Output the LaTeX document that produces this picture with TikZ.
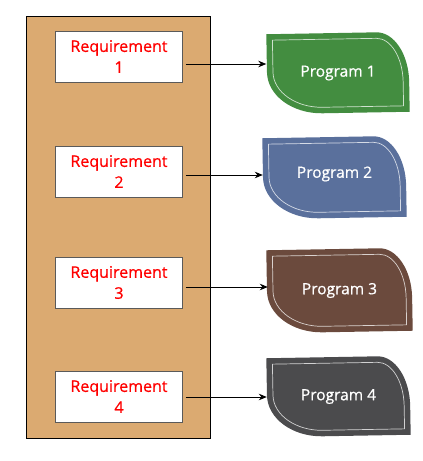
\documentclass[tikz,border=0pt]{standalone}
\usepackage{fontspec}
\setmainfont{Open Sans}
\newfontfamily\labelfont[FakeBold=0.7]{Open Sans}
\usetikzlibrary{arrows.meta}
\definecolor{tan}{HTML}{DBAA71}
\definecolor{pgreen}{HTML}{438D40}
\definecolor{pblue}{HTML}{5A709C}
\definecolor{pbrown}{HTML}{6B4A3D}
\definecolor{pgray}{HTML}{4B4B4D}
\definecolor{reqred}{HTML}{FF0000}
\definecolor{reqborder}{HTML}{5A5A5A}
\tikzset{
  panel/.style={draw=black, line width=1pt, fill=tan},
  req/.style={draw=reqborder, line width=0.9pt, fill=white, minimum width=127pt, minimum height=51pt,
    inner sep=0pt, align=center, text=reqred, font=\labelfont\fontsize{16}{21}\selectfont},
  progtext/.style={minimum width=143pt, minimum height=80pt, inner sep=0pt, text=white,
    font=\labelfont\fontsize{15.5}{19}\selectfont},
  inner line/.style={draw=white, draw opacity=0.75, line width=0.7pt},
  arr/.style={draw=black, line width=0.9pt, -{Stealth[length=8pt,width=6.5pt]}}
}
% #1 colour, #2 x, #3 y (top-left), #4 W, #5 H, #6 rotation
\newcommand{\progshape}[6]{%
  \begin{scope}[shift={(#2,#3)}, rotate around={#6:({#4/2},{#5/2})}]
    \fill[#1] (0,0) -- ({#4-32},0) .. controls ({#4-14.3},0) and (#4,22.4) .. (#4,50)
      -- (#4,#5) -- (55,#5) .. controls (24.6,#5) and (0,{#5-18.8}) .. (0,{#5-42}) -- cycle;
    \draw[inner line] (6,6) -- ({#4-32},6) .. controls ({#4-17.65},6) and ({#4-6},25.8) .. ({#4-6},50)
      -- ({#4-6},{#5-6}) -- (55,{#5-6}) .. controls (28.5,{#5-6}) and (6,{#5-22}) .. (6,{#5-42}) -- cycle;
  \end{scope}}
\begin{document}
\begin{tikzpicture}[x=1pt, y=-1pt]
  \useasboundingbox (0,0) rectangle (423,461);
  \fill[white] (0,0) rectangle (423,461);
  \draw[panel] (26,16) rectangle (210.5,438);

  \node[req] (r1) at (119,56.5) {Requirement\\1};
  \node[req] (r2) at (119,171.5) {Requirement\\2};
  \node[req] (r3) at (119,282.5) {Requirement\\3};
  \node[req] (r4) at (119,396.5) {Requirement\\4};

  \progshape{pgreen}{267}{33}{142}{80}{1}
  \progshape{pblue}{263}{137}{143}{81}{1}
  \progshape{pbrown}{267}{249}{145}{83}{1}
  \progshape{pgray}{267}{357}{143}{79}{1}

  \node[progtext] (p1) at (338,73) {Program 1};
  \node[progtext] (p2) at (334.5,174) {Program 2};
  \node[progtext] (p3) at (339.5,290.5) {Program 3};
  \node[progtext] (p4) at (338.5,396.5) {Program 4};

  \coordinate (a1) at (0,64);
  \coordinate (a2) at (0,175);
  \coordinate (a3) at (0,287);
  \coordinate (a4) at (0,397);
  \draw[arr] ([xshift=3pt]r1.east |- a1) -- (p1.west |- a1);
  \draw[arr] ([xshift=3pt]r2.east |- a2) -- (p2.west |- a2);
  \draw[arr] ([xshift=3pt]r3.east |- a3) -- (p3.west |- a3);
  \draw[arr] ([xshift=3pt]r4.east |- a4) -- (p4.west |- a4);
\end{tikzpicture}
\end{document}
